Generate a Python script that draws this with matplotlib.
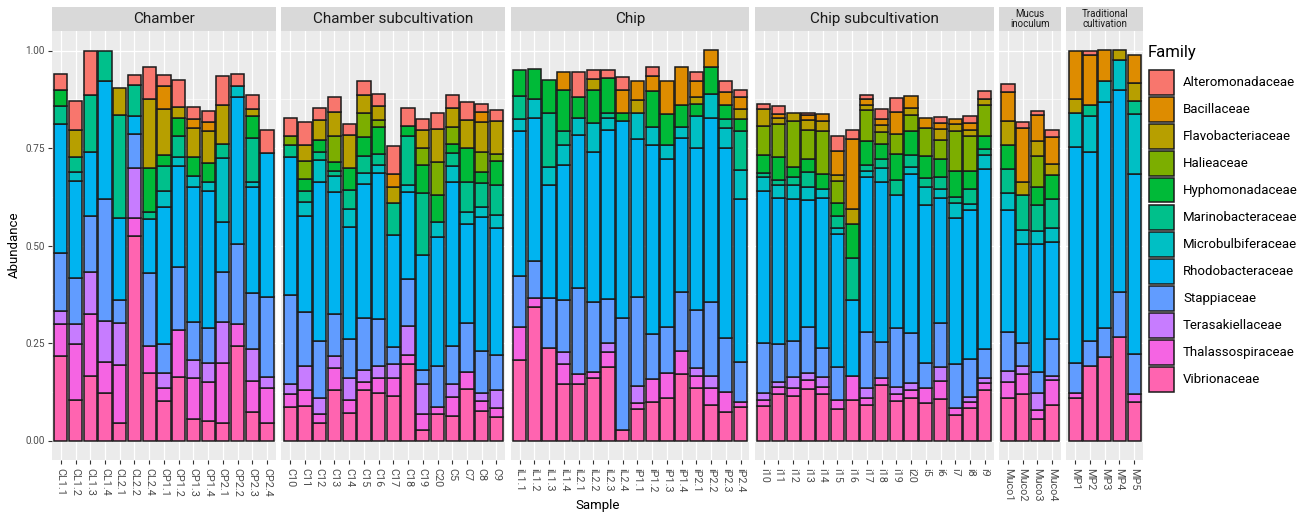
import matplotlib
matplotlib.use("Agg")
import matplotlib.pyplot as plt
from matplotlib.patches import Rectangle

plt.rcParams['font.family'] = ['Roboto', 'DejaVu Sans']

# ---- samples per facet -------------------------------------------------
panel_titles = ["Chamber", "Chamber subcultivation", "Chip", "Chip subcultivation",
                "Mucus\ninoculum", "Traditional\ncultivation"]
chamber = ["CL1.1", "CL1.2", "CL1.3", "CL1.4", "CL2.1", "CL2.2", "CL2.4", "CP1.1",
           "CP1.2", "CP1.3", "CP1.4", "CP2.1", "CP2.2", "CP2.3", "CP2.4"]
chamber_sub = ["C10", "C11", "C12", "C13", "C14", "C15", "C16", "C17", "C18", "C19",
               "C20", "C5", "C7", "C8", "C9"]
chip = ["iL1.1", "iL1.2", "iL1.3", "iL1.4", "iL2.1", "iL2.2", "iL2.3", "iL2.4",
        "iP1.1", "iP1.2", "iP1.3", "iP1.4", "iP2.1", "iP2.2", "iP2.3", "iP2.4"]
chip_sub = ["i10", "i11", "i12", "i13", "i14", "i15", "i16", "i17", "i18", "i19",
            "i20", "i5", "i6", "i7", "i8", "i9"]
mucus = ["Muco1", "Muco2", "Muco3", "Muco4"]
traditional = ["MP1", "MP2", "MP3", "MP4", "MP5"]
panel_samples = [chamber, chamber_sub, chip, chip_sub, mucus, traditional]

# ---- relative abundance per family (rows: Chamber, Chamber sub, Chip, Chip sub, Mucus, Traditional)
alteromonadaceae = [
    0.042, 0.074, 0.113, 0, 0, 0.027, 0.081, 0.028, 0.070, 0.029, 0.030, 0.073, 0.032, 0.037, 0.060,
    0.045, 0.059, 0.030, 0.038, 0.028, 0.036, 0.032, 0.073, 0.046, 0.028, 0.040, 0.033, 0.045, 0.021, 0.028,
    0, 0, 0, 0, 0.064, 0.021, 0.022, 0.034, 0, 0.023, 0, 0, 0.023, 0, 0.028, 0.017,
    0.013, 0.020, 0, 0.005, 0, 0.038, 0.024, 0.009, 0.027, 0.036, 0, 0, 0.015, 0, 0.017, 0.019,
    0.021, 0.016, 0.012, 0.017,
    0, 0.012, 0, 0, 0]
bacillaceae = [
    0, 0, 0, 0, 0, 0, 0, 0.057, 0, 0.024, 0.022, 0, 0, 0, 0,
    0, 0, 0, 0, 0, 0, 0, 0.034, 0, 0, 0, 0, 0, 0.026, 0,
    0, 0, 0, 0.046, 0, 0, 0, 0.058, 0.049, 0.037, 0.084, 0.099, 0.039, 0.042, 0.032, 0.031,
    0, 0.010, 0, 0.014, 0.020, 0.063, 0.180, 0.015, 0.016, 0.056, 0.032, 0.026, 0.015, 0.014, 0.017, 0,
    0.073, 0.137, 0.067, 0.068,
    0.124, 0.127, 0.077, 0, 0.072]
flavobacteriaceae = [
    0, 0.069, 0, 0, 0.069, 0, 0.176, 0.118, 0.028, 0.075, 0.083, 0.101, 0, 0.019, 0,
    0, 0.042, 0.052, 0.062, 0.086, 0.047, 0.035, 0.040, 0, 0.046, 0.087, 0.049, 0.071, 0.075, 0.086,
    0, 0, 0, 0, 0, 0.030, 0, 0, 0.034, 0, 0, 0, 0.019, 0, 0, 0.026,
    0.043, 0.016, 0.023, 0.024, 0.024, 0.014, 0.038, 0.014, 0.017, 0, 0.017, 0, 0.029, 0.018, 0.017, 0.017,
    0.062, 0.034, 0.037, 0.030,
    0.036, 0, 0, 0.025, 0.047]
halieaceae = [
    0, 0, 0, 0, 0, 0, 0, 0, 0, 0, 0, 0, 0, 0, 0,
    0.025, 0.045, 0, 0.067, 0, 0.063, 0.018, 0, 0, 0.044, 0.083, 0.043, 0, 0.053, 0.017,
    0, 0, 0, 0, 0, 0, 0, 0, 0, 0, 0, 0, 0, 0, 0, 0,
    0.074, 0.083, 0.117, 0.075, 0.111, 0.056, 0, 0.080, 0.030, 0.051, 0.041, 0.071, 0.048, 0.101, 0.090, 0.079,
    0, 0, 0.081, 0,
    0, 0, 0, 0, 0]
hyphomonadaceae = [
    0.041, 0, 0, 0, 0, 0, 0.113, 0.030, 0.045, 0.047, 0.047, 0, 0, 0.056, 0,
    0, 0.031, 0.029, 0.021, 0.055, 0.047, 0.070, 0, 0.024, 0.073, 0.071, 0.023, 0.087, 0.028, 0.061,
    0.067, 0.077, 0.084, 0.106, 0.053, 0.084, 0.088, 0.020, 0, 0.092, 0.081, 0.054, 0.030, 0.070, 0.037, 0.031,
    0.046, 0.059, 0.026, 0.034, 0.038, 0.034, 0.088, 0.061, 0.040, 0.066, 0.061, 0.057, 0.047, 0.068, 0.045, 0.032,
    0.061, 0, 0.046, 0.060,
    0, 0, 0, 0, 0]
marinobacteraceae = [
    0.046, 0.040, 0.146, 0.078, 0.265, 0.078, 0.019, 0.062, 0.055, 0, 0, 0.036, 0, 0.112, 0,
    0.031, 0.029, 0.023, 0.014, 0.049, 0.044, 0.027, 0.082, 0.128, 0.158, 0, 0.034, 0.077, 0.060, 0.078,
    0.060, 0, 0.140, 0.036, 0, 0, 0.014, 0, 0, 0, 0, 0, 0, 0, 0.023, 0.099,
    0.012, 0.015, 0.021, 0.038, 0, 0.031, 0.108, 0.016, 0.021, 0.039, 0.032, 0.023, 0.030, 0.015, 0.038, 0.015,
    0.063, 0.090, 0.065, 0.075,
    0, 0.030, 0, 0, 0.032]
microbulbiferaceae = [
    0, 0.022, 0, 0, 0, 0, 0, 0.043, 0.024, 0.029, 0.025, 0.164, 0.026, 0.014, 0,
    0, 0.035, 0.054, 0.042, 0.047, 0.029, 0.021, 0, 0.018, 0, 0.036, 0.040, 0.031, 0.028, 0.032,
    0.030, 0.049, 0.047, 0.050, 0.043, 0.074, 0.032, 0, 0.067, 0.048, 0.035, 0.029, 0.083, 0.060, 0.051, 0.075,
    0.034, 0.033, 0.035, 0.033, 0.024, 0.016, 0, 0.015, 0.037, 0, 0.017, 0.047, 0.022, 0.039, 0.015, 0.036,
    0.044, 0.036, 0.034, 0.037,
    0.088, 0.091, 0.056, 0.077, 0.154]
rhodobacteraceae = [
    0.329, 0.250, 0.165, 0.302, 0.210, 0.046, 0.139, 0.351, 0.259, 0.347, 0.351, 0.128, 0.378, 0.271, 0.368,
    0.353, 0.246, 0.409, 0.312, 0.288, 0.342, 0.374, 0.288, 0.222, 0.295, 0.332, 0.420, 0.255, 0.343, 0.327,
    0.372, 0.366, 0.288, 0.347, 0.394, 0.386, 0.432, 0.507, 0.404, 0.485, 0.430, 0.394, 0.415, 0.472, 0.488, 0.417,
    0.392, 0.374, 0.363, 0.325, 0.385, 0.340, 0.194, 0.398, 0.411, 0.342, 0.409, 0.405, 0.322, 0.374, 0.384, 0.462,
    0.311, 0.253, 0.328, 0.248,
    0.554, 0.484, 0.579, 0.516, 0.463]
stappiaceae = [
    0.151, 0.117, 0.144, 0.313, 0.059, 0.087, 0.187, 0.075, 0.161, 0.097, 0.090, 0.127, 0.205, 0.143, 0.205,
    0.229, 0.139, 0.145, 0.107, 0.100, 0.133, 0.120, 0.043, 0.120, 0.036, 0.105, 0.099, 0.126, 0.106, 0.090,
    0.132, 0.096, 0.130, 0.134, 0.220, 0.179, 0.114, 0.286, 0.229, 0.114, 0.118, 0.152, 0.150, 0.191, 0.137, 0.103,
    0.126, 0.096, 0.094, 0.120, 0.074, 0.084, 0, 0.143, 0.093, 0.150, 0.127, 0.064, 0.113, 0.112, 0.096, 0.074,
    0.100, 0.060, 0.053, 0.094,
    0.076, 0.064, 0.075, 0.116, 0.102]
terasakiellaceae = [
    0.032, 0.052, 0.108, 0.105, 0.108, 0.130, 0, 0.038, 0, 0.047, 0.047, 0.105, 0, 0.083, 0.030,
    0.026, 0.062, 0.041, 0.030, 0.055, 0.033, 0.033, 0.037, 0.075, 0.076, 0, 0.032, 0, 0.022, 0.045,
    0, 0, 0, 0.030, 0, 0, 0.021, 0, 0.045, 0, 0, 0, 0.020, 0.031, 0, 0,
    0.018, 0.013, 0.027, 0.017, 0.024, 0, 0, 0.024, 0, 0.019, 0.019, 0, 0.035, 0, 0.014, 0.013,
    0.028, 0.021, 0.045, 0.011,
    0, 0, 0, 0, 0]
thalassospiraceae = [
    0.082, 0.143, 0.158, 0.079, 0.149, 0.045, 0.070, 0.032, 0.119, 0.105, 0.101, 0.156, 0.057, 0.080, 0.089,
    0.033, 0.040, 0.024, 0.058, 0.033, 0.020, 0.037, 0.044, 0.023, 0.042, 0.018, 0.049, 0.044, 0.026, 0.023,
    0.084, 0.023, 0, 0.050, 0.025, 0.014, 0.039, 0, 0.015, 0.059, 0.064, 0.060, 0.031, 0.043, 0.051, 0.014,
    0.017, 0.020, 0.021, 0.024, 0.019, 0.023, 0.060, 0.018, 0.017, 0.017, 0.021, 0.039, 0.047, 0.019, 0.014, 0.019,
    0.043, 0.052, 0.023, 0.063,
    0.012, 0, 0, 0, 0.021]
vibrionaceae = [
    0.217, 0.104, 0.166, 0.123, 0.044, 0.525, 0.172, 0.102, 0.164, 0.054, 0.050, 0.044, 0.242, 0.072, 0.045,
    0.085, 0.089, 0.045, 0.129, 0.071, 0.129, 0.122, 0.115, 0.196, 0.027, 0.068, 0.063, 0.131, 0.075, 0.061,
    0.206, 0.342, 0.236, 0.146, 0.145, 0.161, 0.189, 0.027, 0.080, 0.099, 0.110, 0.170, 0.134, 0.091, 0.074, 0.085,
    0.088, 0.118, 0.114, 0.131, 0.119, 0.082, 0.105, 0.092, 0.142, 0.102, 0.108, 0.095, 0.106, 0.065, 0.084, 0.129,
    0.108, 0.118, 0.055, 0.092,
    0.110, 0.192, 0.213, 0.266, 0.098]

families = ["Alteromonadaceae", "Bacillaceae", "Flavobacteriaceae", "Halieaceae",
            "Hyphomonadaceae", "Marinobacteraceae", "Microbulbiferaceae",
            "Rhodobacteraceae", "Stappiaceae", "Terasakiellaceae",
            "Thalassospiraceae", "Vibrionaceae"]
family_values = [alteromonadaceae, bacillaceae, flavobacteriaceae, halieaceae,
                 hyphomonadaceae, marinobacteraceae, microbulbiferaceae,
                 rhodobacteraceae, stappiaceae, terasakiellaceae,
                 thalassospiraceae, vibrionaceae]
family_colors = ["#F8766D", "#DE8C00", "#B79F00", "#7CAE00", "#00BA38", "#00C08B",
                 "#00BFC4", "#00B4F0", "#619CFF", "#C77CFF", "#F564E3", "#FF64B0"]

# ---- figure geometry (pixels) -----------------------------------------
W, H = 1311, 514
fig = plt.figure(figsize=(W / 100, H / 100), dpi=100)
fig.patch.set_facecolor("white")

left_px, right_px = 52.0, 1143.0
top_px, bottom_px = 31.0, 460.0
gap_px = 5.5
strip_h = 23.5
units = [len(s) + 0.2 for s in panel_samples]
unit_px = (right_px - left_px - gap_px * (len(units) - 1)) / sum(units)

tick_col = "#333333"
label_col = "#4D4D4D"
edge_col = "#1A1A1A"
edge_lw = 1.1

x0 = left_px
start = 0
for p, (title, samples) in enumerate(zip(panel_titles, panel_samples)):
    n = len(samples)
    w_px = units[p] * unit_px
    ax = fig.add_axes([x0 / W, 1 - bottom_px / H, w_px / W, (bottom_px - top_px) / H])
    ax.set_facecolor("#EBEBEB")
    ax.set_xlim(0.4, n + 0.6)
    ax.set_ylim(-0.05, 1.05)
    for s in ax.spines.values():
        s.set_visible(False)

    # grid
    for yv in [0.125, 0.375, 0.625, 0.875]:
        ax.axhline(yv, color="white", lw=0.45, zorder=0)
    for yv in [0, 0.25, 0.5, 0.75, 1.0]:
        ax.axhline(yv, color="white", lw=0.9, zorder=0)
    xs = list(range(1, n + 1))
    for xv in xs:
        ax.axvline(xv, color="white", lw=0.9, zorder=0)

    # stacked bars: Vibrionaceae at the bottom, Alteromonadaceae on top
    bottoms = [0.0] * n
    for fam, col, vals in reversed(list(zip(families, family_colors, family_values))):
        seg = vals[start:start + n]
        idx = [i for i in range(n) if seg[i] > 0]
        ax.bar([xs[i] for i in idx], [seg[i] for i in idx],
               bottom=[bottoms[i] for i in idx], width=0.9, color=col,
               edgecolor=edge_col, linewidth=edge_lw, zorder=2)
        bottoms = [bottoms[i] + seg[i] for i in range(n)]

    ax.set_xticks(xs)
    ax.set_xticklabels(samples)
    ax.tick_params(axis="x", length=3.2, width=0.8, color=tick_col, pad=2.2,
                   labelsize=7.8, labelcolor=label_col)
    plt.setp(ax.get_xticklabels(), rotation=270, ha="left", va="center",
             rotation_mode="anchor")
    if p == 0:
        ax.set_yticks([0, 0.25, 0.5, 0.75, 1.0])
        ax.set_yticklabels(["0.00", "0.25", "0.50", "0.75", "1.00"])
        ax.tick_params(axis="y", length=3.2, width=0.8, color=tick_col, pad=2.0,
                       labelsize=7.2, labelcolor=label_col)
    else:
        ax.set_yticks([])

    # facet strip
    sh = strip_h / (bottom_px - top_px)
    ax.add_patch(Rectangle((0, 1.0), 1, sh, transform=ax.transAxes,
                           facecolor="#D9D9D9", edgecolor="none", clip_on=False))
    small = "\n" in title
    ax.text(0.5, 1.0 + sh / 2, title, transform=ax.transAxes, ha="center",
            va="center", fontsize=7.0 if small else 11, color="#1A1A1A",
            linespacing=1.05)

    x0 += w_px + gap_px
    start += n

# axis titles
fig.text(14 / W, 1 - 245 / H, "Abundance", rotation=90, ha="center", va="center",
         fontsize=9.5, color="black")
fig.text((left_px + right_px) / 2 / W, 1 - 506 / H, "Sample", ha="center",
         va="center", fontsize=9.5, color="black")

# legend
fig.text(1148 / W, 1 - 53 / H, "Family", ha="left", va="center", fontsize=12,
         color="black")
key_w, key_h, pitch = 25.5, 24.5, 27.0
for i, (fam, col) in enumerate(zip(families, family_colors)):
    ytop = 70 + pitch * i
    fig.add_artist(Rectangle((1148.5 / W, 1 - (ytop + key_h) / H), key_w / W, key_h / H,
                             transform=fig.transFigure, facecolor=col,
                             edgecolor=edge_col, linewidth=edge_lw))
    fig.text(1183 / W, 1 - (ytop + key_h / 2) / H, fam, ha="left", va="center",
             fontsize=9.5, color="black")

fig.savefig("out.png", dpi=100)
